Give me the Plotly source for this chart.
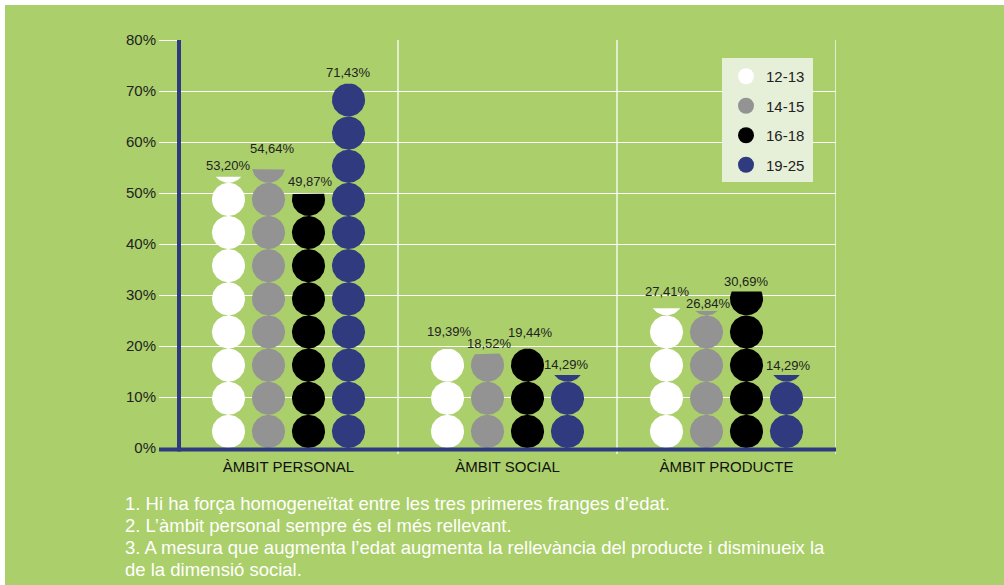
import plotly.graph_objects as go
import numpy as np

# ---------------- data ----------------
categories = ["ÀMBIT PERSONAL", "ÀMBIT SOCIAL", "ÀMBIT PRODUCTE"]
age_groups = ["12-13", "14-15", "16-18", "19-25"]
values = {
    "12-13": [53.20, 19.39, 27.41],
    "14-15": [54.64, 18.52, 26.84],
    "16-18": [49.87, 19.44, 30.69],
    "19-25": [71.43, 14.29, 14.29],
}
y_ticks = [0, 10, 20, 30, 40, 50, 60, 70, 80]
y_tick_labels = ["0%", "10%", "20%", "30%", "40%", "50%", "60%", "70%", "80%"]
notes = [
    "1. Hi ha força homogeneïtat entre les tres primeres franges d’edat.",
    "2. L’àmbit personal sempre és el més rellevant.",
    "3. A mesura que augmenta l’edat augmenta la rellevància del producte i disminueix la",
    "de la dimensió social.",
]

# ---------------- style ----------------
colors = {"12-13": "#ffffff", "14-15": "#939393", "16-18": "#000000", "19-25": "#2f3b7e"}
GREEN = "#abcf6a"
NAVY = "#2e3a80"
W, H = 1004, 585
L, R, T, B = 179, 168, 40, 137
PW, PH = W - L - R, H - T - B
YMAX = 80
unit = 6.5                      # percent represented by one circle
col_off_px = [-60, -20, 20, 60]  # column offsets from group centre
# label offsets (px above top of value)
label_dy = {
    "12-13": [11, 18, 17],
    "14-15": [21, 10, 8],
    "16-18": [12, 16, 10],
    "19-25": [11, 11, 10],
}
label_dx = {
    "12-13": [0, 2, 1],
    "14-15": [4, 2, 2],
    "16-18": [2, 3, 0],
    "19-25": [0, -1, 2],
}

xpp = 3.0 / PW      # data units per px (x)
ypp = YMAX / PH     # data units per px (y)
r_px = unit / ypp / 2.0


def clip_poly(pts, top):
    out = []
    n = len(pts)
    for i in range(n):
        a = pts[i]
        b = pts[(i + 1) % n]
        ain = a[1] <= top
        bin_ = b[1] <= top
        if ain:
            out.append(a)
        if ain != bin_:
            t = (top - a[1]) / (b[1] - a[1])
            out.append((a[0] + t * (b[0] - a[0]), top))
    return out


theta = np.linspace(0, 2 * np.pi, 97)[:-1]

fig = go.Figure()
for gi, g in enumerate(age_groups):
    xs, ys = [], []
    for ci, v in enumerate(values[g]):
        cx = ci + 0.5 + col_off_px[gi] * xpp
        k = 0
        while k * unit < v:
            cy = (k + 0.5) * unit
            pts = [(cx + r_px * np.cos(t) * xpp, cy + r_px * np.sin(t) * ypp) for t in theta]
            pts = clip_poly(pts, v)
            if len(pts) > 2:
                xs += [p[0] for p in pts] + [pts[0][0], None]
                ys += [p[1] for p in pts] + [pts[0][1], None]
            k += 1
    fig.add_trace(go.Scatter(x=xs, y=ys, mode="lines", fill="toself",
                             fillcolor=colors[g], line=dict(width=0, color=colors[g]),
                             showlegend=False, hoverinfo="skip"))

for gi, g in enumerate(age_groups):
    fig.add_trace(go.Scatter(x=[None], y=[None], mode="markers", name=g, legendgroup=g,
                             marker=dict(size=16, color=colors[g], symbol="circle")))

annotations = []
for gi, g in enumerate(age_groups):
    for ci, v in enumerate(values[g]):
        cx = ci + 0.5 + (col_off_px[gi] + label_dx[g][ci]) * xpp
        annotations.append(dict(x=cx, y=v, xref="x", yref="y",
                                text=f"{v:.2f}%".replace(".", ","), showarrow=False,
                                yshift=label_dy[g][ci], font=dict(size=13, color="#222222"),
                                xanchor="center", yanchor="middle"))

for i, line in enumerate(notes):
    annotations.append(dict(x=(123 - L) / PW, y=(H - B - (503 + 22 * i)) / PH,
                            xref="paper", yref="paper", text=line, showarrow=False,
                            xanchor="left", yanchor="middle",
                            font=dict(size=18.5, color="#ffffff")))

shapes = []
# vertical white separators
for xv in [1, 2, 3]:
    shapes.append(dict(type="line", xref="x", yref="paper", x0=xv, x1=xv,
                       y0=-6 / PH, y1=1, line=dict(color="#ffffff", width=1.3), layer="below"))
# legend box
shapes.append(dict(type="rect", xref="paper", yref="paper",
                   x0=(722 - L) / PW, x1=(813 - L) / PW, y0=(H - B - 182) / PH, y1=(H - B - 58) / PH,
                   fillcolor="#e6f0d8", line=dict(width=0), layer="above"))
# navy axes
shapes.append(dict(type="line", xref="paper", yref="paper", x0=0, x1=0,
                   y0=-3.5 / PH, y1=1, line=dict(color=NAVY, width=4), layer="above"))
shapes.append(dict(type="line", xref="paper", yref="paper", x0=-20 / PW, x1=1,
                   y0=-1.5 / PH, y1=-1.5 / PH, line=dict(color=NAVY, width=4), layer="above"))
# white border on top/left
shapes.append(dict(type="rect", xref="paper", yref="paper", x0=-L / PW, x1=(W - L) / PW,
                   y0=(H - B) / PH, y1=(H - B - 5) / PH, fillcolor="#ffffff", line=dict(width=0), layer="above"))
shapes.append(dict(type="rect", xref="paper", yref="paper", x0=-L / PW, x1=(5 - L) / PW,
                   y0=-B / PH, y1=(H - B) / PH, fillcolor="#ffffff", line=dict(width=0), layer="above"))

fig.update_layout(
    width=W, height=H, autosize=False,
    margin=dict(l=L, r=R, t=T, b=B, pad=0),
    paper_bgcolor=GREEN, plot_bgcolor=GREEN,
    font=dict(family="Liberation Sans, Arial, sans-serif", color="#222222"),
    xaxis=dict(range=[0, 3], showgrid=False, zeroline=False, showline=False,
               tickvals=[0.5, 1.5, 2.5], ticktext=categories, ticks="outside",
               ticklen=5, tickcolor="rgba(0,0,0,0)",
               tickfont=dict(size=15, color="#111111"), fixedrange=True),
    yaxis=dict(range=[0, YMAX], tickvals=y_ticks, ticktext=y_tick_labels, showgrid=True,
               gridcolor="#ffffff", gridwidth=1.3, zeroline=False, showline=False,
               ticks="outside", ticklen=19, tickcolor="#ffffff", tickwidth=1.3,
               tickfont=dict(size=15, color="#222222"), fixedrange=True),
    legend=dict(x=(726 - L) / PW, y=(H - B - 60) / PH, xanchor="left", yanchor="top",
                bgcolor="rgba(0,0,0,0)", font=dict(size=15, color="#222222"),
                tracegroupgap=7),
    shapes=shapes,
    annotations=annotations,
    showlegend=True,
)

fig.write_html("out.html")
